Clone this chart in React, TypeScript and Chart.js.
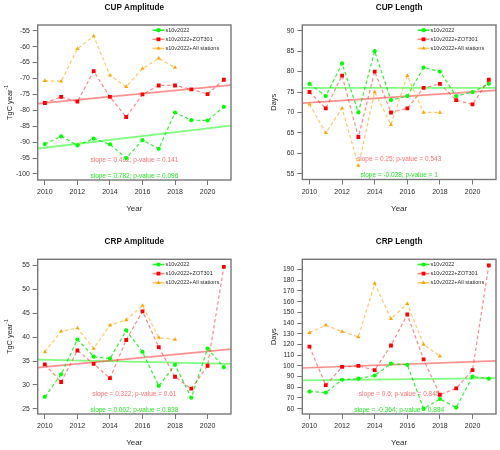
import React, { useEffect, useRef } from "react";
import { Chart, registerables } from "chart.js";

Chart.register(...registerables);

const FONT = '"Liberation Sans", Arial, Helvetica, sans-serif';

// ---------- shared data ----------
const years = [2010, 2011, 2012, 2013, 2014, 2015, 2016, 2017, 2018, 2019, 2020, 2021];
const xLimits = [2009.56, 2021.44];
const xTicks = [2010, 2012, 2014, 2016, 2018, 2020];
const seriesLabels = ["s10v2022", "s10v2022+ZOT301", "s10v2022+All stations"];
const xTitle = "Year";

// ---------- CUP Amplitude ----------
const cupAmpGreen = [-90.6, -88.2, -91.0, -88.9, -90.7, -95.0, -89.4, -92.1, -80.7, -83.1, -83.2, -78.9];
const cupAmpRed = [-77.7, -75.8, -77.3, -67.7, -75.8, -82.1, -75.0, -72.2, -72.2, -73.4, -74.9, -70.4];
const cupAmpOrange = [-70.7, -70.9, -60.7, -56.7, -69.0, -72.6, -66.9, -63.7, -66.6];
const cupAmpGreenFit = [-92.0, -84.8];
const cupAmpRedFit = [-77.9, -72.1];
const cupAmpTicks = [-100, -95, -90, -85, -80, -75, -70, -65, -60, -55];
const cupAmpRange = [-101.9, -53.2];

// ---------- CUP Length ----------
const cupLenGreen = [77, 74, 82, 70, 85, 73, 74, 81, 80, 74, 75, 77];
const cupLenRed = [75, 71, 79, 64, 80, 70, 71, 76, 77, 73, 72, 78];
const cupLenOrange = [72, 65, 71, 57, 75, 67, 79, 70, 70];
const cupLenGreenFit = [76.0, 76.0];
const cupLenRedFit = [72.3, 75.4];
const cupLenTicks = [55, 60, 65, 70, 75, 80, 85, 90];
const cupLenRange = [53.6, 91.4];

// ---------- CRP Amplitude ----------
const crpAmpGreen = [27.5, 32.2, 39.5, 35.9, 35.5, 41.4, 36.9, 29.8, 34.2, 27.3, 37.6, 33.7];
const crpAmpRed = [34.3, 30.6, 37.2, 34.4, 31.4, 39.4, 45.4, 37.9, 31.7, 29.2, 34.0, 54.7];
const crpAmpOrange = [36.9, 41.2, 41.9, 37.6, 42.5, 43.6, 46.6, 39.9, 39.5];
const crpAmpGreenFit = [35.3, 34.4];
const crpAmpRedFit = [33.6, 37.5];
const crpAmpTicks = [25, 30, 35, 40, 45, 50, 55];
const crpAmpRange = [23.9, 56.3];

// ---------- CRP Length ----------
const crpLenGreen = [76, 75, 87, 88, 91, 102, 101, 60, 69, 61, 90, 88];
const crpLenRed = [118, 82, 99, 100, 96, 119, 148, 106, 73, 79, 96, 194];
const crpLenOrange = [131, 138, 132, 127, 177, 144, 158, 120, 109];
const crpLenGreenFit = [86.5, 88.6];
const crpLenRedFit = [98.0, 104.6];
const crpLenTicks = [60, 70, 80, 90, 100, 110, 120, 130, 140, 150, 160, 170, 180, 190];
const crpLenRange = [55.0, 199.6];

// ---------- styling ----------
const GREEN_PT = "#00ff00";
const RED_PT = "#ff0000";
const ORANGE_PT = "#ffa500";
const GREEN_LINE = "rgba(0,235,0,0.8)";
const RED_LINE = "rgba(255,40,40,0.55)";
const ORANGE_LINE = "rgba(255,170,20,0.65)";
const GREEN_FIT = "rgba(60,255,60,0.65)";
const RED_FIT = "rgba(255,70,70,0.6)";
const GREEN_TXT = "rgba(20,230,20,0.95)";
const RED_TXT = "rgba(255,60,60,0.75)";
const FRAME = "#777777";
const TXT = "#2b2b2b";

type Panel = {
  title: string;
  yTitle: string;
  ySup: string;
  green: number[];
  red: number[];
  orange: number[];
  greenFit: number[];
  redFit: number[];
  yTicks: number[];
  yRange: number[];
  redText: string;
  greenText: string;
  pos: [number, number];
  box: { left: number; top: number; right: number; bottom: number };
};

const W = 250;
const H = 225;

const panels: Panel[] = [
  {
    title: "CUP Amplitude", yTitle: "TgC year", ySup: "-1",
    green: cupAmpGreen, red: cupAmpRed, orange: cupAmpOrange,
    greenFit: cupAmpGreenFit, redFit: cupAmpRedFit,
    yTicks: cupAmpTicks, yRange: cupAmpRange,
    redText: "slope = 0.492; p-value = 0.141",
    greenText: "slope = 0.782; p-value = 0.096",
    pos: [0, 0], box: { left: 37.7, top: 25, right: 231, bottom: 180 },
  },
  {
    title: "CUP Length", yTitle: "Days", ySup: "",
    green: cupLenGreen, red: cupLenRed, orange: cupLenOrange,
    greenFit: cupLenGreenFit, redFit: cupLenRedFit,
    yTicks: cupLenTicks, yRange: cupLenRange,
    redText: "slope = 0.25; p-value = 0.543",
    greenText: "slope = -0.028; p-value = 1",
    pos: [250, 0], box: { left: 52.3, top: 25, right: 246, bottom: 179.5 },
  },
  {
    title: "CRP Amplitude", yTitle: "TgC year", ySup: "-1",
    green: crpAmpGreen, red: crpAmpRed, orange: crpAmpOrange,
    greenFit: crpAmpGreenFit, redFit: crpAmpRedFit,
    yTicks: crpAmpTicks, yRange: crpAmpRange,
    redText: "slope = 0.322; p-value = 0.61",
    greenText: "slope = 0.002; p-value = 0.838",
    pos: [0, 225], box: { left: 37.7, top: 34.3, right: 231, bottom: 189 },
  },
  {
    title: "CRP Length", yTitle: "Days", ySup: "",
    green: crpLenGreen, red: crpLenRed, orange: crpLenOrange,
    greenFit: crpLenGreenFit, redFit: crpLenRedFit,
    yTicks: crpLenTicks, yRange: crpLenRange,
    redText: "slope = 0.6; p-value = 0.845",
    greenText: "slope = -0.364; p-value = 0.884",
    pos: [250, 225], box: { left: 52.3, top: 34.3, right: 246, bottom: 189 },
  },
];

function drawMarker(ctx: CanvasRenderingContext2D, style: string, x: number, y: number, color: string) {
  ctx.fillStyle = color;
  ctx.beginPath();
  if (style === "circle") {
    ctx.arc(x, y, 2.1, 0, Math.PI * 2);
  } else if (style === "rect") {
    ctx.rect(x - 1.9, y - 1.9, 3.8, 3.8);
  } else {
    const r = 2.4;
    ctx.moveTo(x, y - r);
    ctx.lineTo(x + r * 0.866, y + r * 0.5);
    ctx.lineTo(x - r * 0.866, y + r * 0.5);
    ctx.closePath();
  }
  ctx.fill();
}

function PanelChart({ p }: { p: Panel }) {
  const ref = useRef<HTMLCanvasElement | null>(null);

  useEffect(() => {
    const canvas = ref.current;
    if (!canvas) return;
    const pts = (vals: number[]) => vals.map((v, i) => ({ x: years[i], y: v }));
    const fit = (vals: number[]) => [
      { x: xLimits[0], y: vals[0] },
      { x: xLimits[1], y: vals[1] },
    ];
    const legendDefs = [
      { line: GREEN_LINE, pt: GREEN_PT, style: "circle" },
      { line: RED_LINE, pt: RED_PT, style: "rect" },
      { line: ORANGE_LINE, pt: ORANGE_PT, style: "triangle" },
    ];

    const overlay = {
      id: "overlay",
      beforeDatasetsDraw(chart: any) {
        const { ctx, chartArea: a } = chart;
        const cx = (a.left + a.right) / 2;
        ctx.save();
        ctx.font = `6.5px ${FONT}`;
        ctx.textAlign = "center";
        ctx.textBaseline = "middle";
        ctx.fillStyle = RED_TXT;
        ctx.fillText(p.redText, cx, a.bottom - 20);
        ctx.fillStyle = GREEN_TXT;
        ctx.fillText(p.greenText, cx, a.bottom - 4);
        ctx.restore();
      },
      afterDraw(chart: any) {
        const { ctx, chartArea: a } = chart;
        const cx = (a.left + a.right) / 2;
        ctx.save();
        // frame
        ctx.strokeStyle = FRAME;
        ctx.lineWidth = 1.4;
        ctx.strokeRect(a.left, a.top, a.right - a.left, a.bottom - a.top);
        // title
        ctx.fillStyle = "#111";
        ctx.textAlign = "center";
        ctx.textBaseline = "middle";
        ctx.font = `bold 8.2px ${FONT}`;
        ctx.fillText(p.title, cx, a.top - 17.7);
        // x title
        ctx.fillStyle = TXT;
        ctx.font = `8px ${FONT}`;
        ctx.fillText(xTitle, cx, a.bottom + 29);
        // y title
        ctx.save();
        ctx.translate(a.left - 28, (a.top + a.bottom) / 2);
        ctx.rotate(-Math.PI / 2);
        ctx.font = `7.4px ${FONT}`;
        const w1 = ctx.measureText(p.yTitle).width;
        ctx.font = `5px ${FONT}`;
        const w2 = p.ySup ? ctx.measureText(p.ySup).width : 0;
        const start = -(w1 + w2) / 2;
        ctx.textAlign = "left";
        ctx.font = `7.4px ${FONT}`;
        ctx.fillText(p.yTitle, start, 0);
        if (p.ySup) {
          ctx.font = `5px ${FONT}`;
          ctx.fillText(p.ySup, start + w1, -3);
        }
        ctx.restore();
        // legend
        ctx.font = `5.5px ${FONT}`;
        ctx.textAlign = "left";
        ctx.textBaseline = "middle";
        legendDefs.forEach((d, i) => {
          const y = a.top + 5.2 + i * 9.1;
          const x0 = a.right - 78.5;
          const x1 = a.right - 66.5;
          ctx.strokeStyle = d.line;
          ctx.lineWidth = 1.6;
          ctx.beginPath();
          ctx.moveTo(x0, y);
          ctx.lineTo(x1, y);
          ctx.stroke();
          drawMarker(ctx, d.style, (x0 + x1) / 2, y, d.pt);
          ctx.fillStyle = TXT;
          ctx.fillText(seriesLabels[i], a.right - 65.5, y);
        });
        ctx.restore();
      },
    };

    const chart = new Chart(canvas, {
      type: "line",
      data: {
        datasets: [
          {
            label: seriesLabels[2], data: pts(p.orange),
            borderColor: ORANGE_LINE, borderWidth: 1.2, borderDash: [3.5, 2.5],
            pointStyle: "triangle", pointRadius: 2.4, pointBackgroundColor: ORANGE_PT,
            pointBorderWidth: 0, tension: 0, fill: false,
          },
          {
            label: seriesLabels[1], data: pts(p.red),
            borderColor: RED_LINE, borderWidth: 1.2, borderDash: [3.5, 2.5],
            pointStyle: "rect", pointRadius: 2.7, pointBackgroundColor: RED_PT,
            pointBorderWidth: 0, tension: 0, fill: false,
          },
          {
            label: seriesLabels[0], data: pts(p.green),
            borderColor: GREEN_LINE, borderWidth: 1.2, borderDash: [3.5, 2.5],
            pointStyle: "circle", pointRadius: 2.1, pointBackgroundColor: GREEN_PT,
            pointBorderWidth: 0, tension: 0, fill: false,
          },
          {
            label: "fit-red", data: fit(p.redFit),
            borderColor: RED_FIT, borderWidth: 1.7, pointRadius: 0, tension: 0, fill: false,
          },
          {
            label: "fit-green", data: fit(p.greenFit),
            borderColor: GREEN_FIT, borderWidth: 1.8, pointRadius: 0, tension: 0, fill: false,
          },
        ] as any,
      },
      options: {
        responsive: false,
        animation: false,
        devicePixelRatio: 1,
        layout: {
          padding: { left: 0, top: p.box.top, right: W - p.box.right, bottom: 0 },
        },
        plugins: {
          legend: { display: false },
          title: { display: false },
          tooltip: { enabled: false },
        },
        events: [],
        scales: {
          x: {
            type: "linear",
            min: xLimits[0],
            max: xLimits[1],
            afterBuildTicks: (s: any) => { s.ticks = xTicks.map((v) => ({ value: v })); },
            afterFit: (s: any) => { s.height = H - p.box.bottom; },
            ticks: {
              autoSkip: false, maxRotation: 0, minRotation: 0, padding: 3,
              color: TXT, font: { family: FONT, size: 7 },
              callback: (v: any) => String(v),
            },
            grid: { display: true, drawOnChartArea: false, drawTicks: true, tickLength: 5, color: FRAME, lineWidth: 1 },
            border: { display: false },
          },
          y: {
            type: "linear",
            min: p.yRange[0],
            max: p.yRange[1],
            afterBuildTicks: (s: any) => { s.ticks = p.yTicks.map((v) => ({ value: v })); },
            afterFit: (s: any) => { s.width = p.box.left; },
            ticks: {
              autoSkip: false, padding: 3,
              color: TXT, font: { family: FONT, size: 6.8 },
              callback: (v: any) => String(v),
            },
            grid: { display: true, drawOnChartArea: false, drawTicks: true, tickLength: 5, color: FRAME, lineWidth: 1 },
            border: { display: false },
          },
        },
      } as any,
      plugins: [overlay],
    });
    return () => chart.destroy();
  }, [p]);

  return (
    <div style={{ position: "absolute", left: p.pos[0], top: p.pos[1], width: W, height: H }}>
      <canvas ref={ref} width={W} height={H} style={{ width: W, height: H, display: "block" }} />
    </div>
  );
}

export default function App() {
  return (
    <div style={{ position: "fixed", left: 0, top: 0, width: 500, height: 450, background: "#ffffff" }}>
      {panels.map((p, i) => (
        <PanelChart key={i} p={p} />
      ))}
    </div>
  );
}
